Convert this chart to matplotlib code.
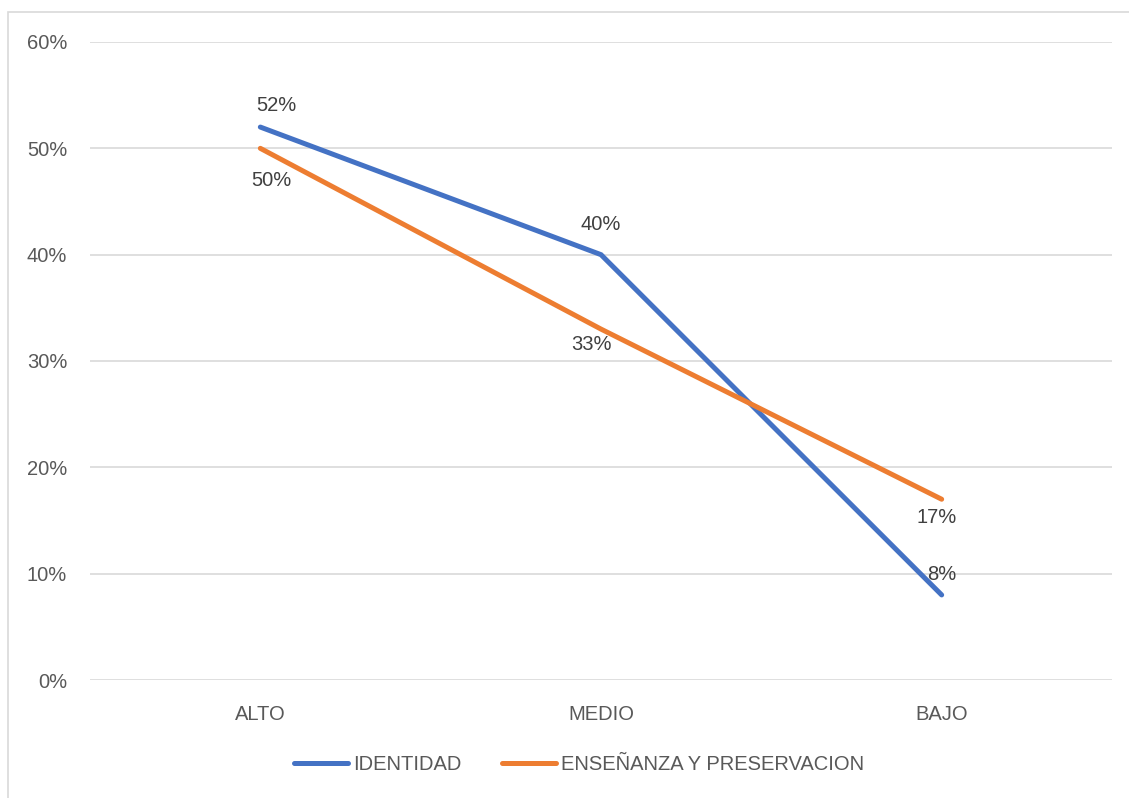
import matplotlib
matplotlib.use("Agg")
import matplotlib.pyplot as plt
from matplotlib.patches import Rectangle

categories = ["ALTO", "MEDIO", "BAJO"]
identidad = [0.52, 0.40, 0.08]
ensenanza = [0.50, 0.33, 0.17]
series_names = ["IDENTIDAD", "ENSEÑANZA Y PRESERVACION"]
yticks = [0, 0.1, 0.2, 0.3, 0.4, 0.5, 0.6]

# label offsets (points) relative to each data point
ident_offsets = [(11.5, 15.8), (0, 21.6), (0, 14.4)]
ens_offsets = [(8, -23), (-7, -10.8), (-3.6, -13)]

plt.rcParams['font.family'] = ['Liberation Sans', 'DejaVu Sans']
FS = 14.5

W, H = 1129, 798
fig = plt.figure(figsize=(W / 100, H / 100), dpi=100)
fig.patch.set_facecolor("white")
# outer chart border
fig.add_artist(Rectangle((8 / W, -0.01), 1.1, 1 - 12 / H + 0.01, transform=fig.transFigure,
                         fill=False, edgecolor="#D9D9D9", linewidth=1.2))

ax = fig.add_axes([90 / W, 1 - 680 / H, (1112 - 90) / W, (680 - 42) / H])
x = list(range(len(categories)))
blue = "#4472C4"
orange = "#ED7D31"
ax.plot(x, identidad, color=blue, linewidth=3.6, solid_capstyle="round",
        solid_joinstyle="miter", label=series_names[0], zorder=3)
ax.plot(x, ensenanza, color=orange, linewidth=3.6, solid_capstyle="round",
        solid_joinstyle="miter", label=series_names[1], zorder=3)

ax.set_xlim(-0.5, len(categories) - 0.5)
ax.set_ylim(0, 0.6)
ax.set_yticks(yticks)
ax.set_yticklabels([f"{int(round(t * 100))}%" for t in yticks])
ax.set_xticks(x)
ax.set_xticklabels(categories)
ax.tick_params(axis="both", length=0, labelsize=FS, colors="#595959")
ax.tick_params(axis="y", pad=16.5)
ax.tick_params(axis="x", pad=18)
ax.grid(axis="y", color="#D9D9D9", linewidth=1.2)
ax.set_axisbelow(True)
for s in ax.spines.values():
    s.set_visible(False)

lab_kw = dict(ha="center", va="center", fontsize=FS, color="#404040", zorder=4)
for xi, v, off in zip(x, identidad, ident_offsets):
    ax.annotate(f"{int(round(v * 100))}%", (xi, v), xytext=off,
                textcoords="offset points", **lab_kw)
for xi, v, off in zip(x, ensenanza, ens_offsets):
    ax.annotate(f"{int(round(v * 100))}%", (xi, v), xytext=off,
                textcoords="offset points", **lab_kw)

leg = fig.legend(loc="center", bbox_to_anchor=(579 / W, 1 - 765 / H), ncol=2, frameon=False,
                 fontsize=FS, handlelength=2.7, handletextpad=0.25, columnspacing=2.0)
for t in leg.get_texts():
    t.set_color("#595959")
for l in leg.get_lines():
    l.set_solid_capstyle("round")

fig.savefig("out.png", dpi=100)
